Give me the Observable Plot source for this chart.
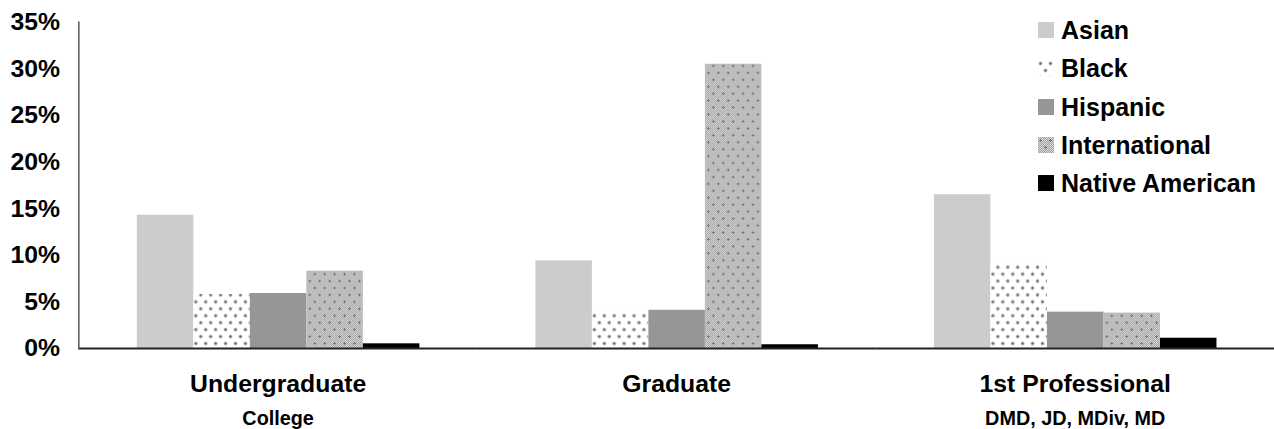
<!DOCTYPE html>
<html><head><meta charset="utf-8">
<script src="https://cdn.jsdelivr.net/npm/d3@7"></script>
<script src="https://cdn.jsdelivr.net/npm/@observablehq/plot@0.6"></script>
<style>
html,body{margin:0;padding:0;background:#fff;overflow:hidden;}
#wrap{position:relative;width:1274px;height:429px;overflow:hidden;font-family:"Liberation Sans",Arial,sans-serif;}
#legend{position:absolute;left:1038px;top:0;}
.item{position:absolute;left:0;display:flex;align-items:center;white-space:nowrap;font-weight:bold;font-size:25px;color:#000;height:30px;}
.item svg{margin-right:7px;}
</style></head>
<body>
<svg width="0" height="0" style="position:absolute">
<defs>
<pattern id="checker" width="2" height="2" patternUnits="userSpaceOnUse">
<rect width="2" height="2" fill="#d8d8d8"/>
<rect x="0" y="0" width="1" height="1" fill="#a2a2a2"/>
<rect x="1" y="1" width="1" height="1" fill="#a2a2a2"/>
</pattern>
<pattern id="pat-black" width="10" height="14" patternUnits="userSpaceOnUse">
<rect width="10" height="14" fill="#ffffff"/>
<circle cx="2.5" cy="3.5" r="1.9" fill="#b8b8b8"/>
<circle cx="2.5" cy="3.5" r="1.1" fill="#5e5e5e"/>
<circle cx="7.5" cy="10.5" r="1.9" fill="#b8b8b8"/>
<circle cx="7.5" cy="10.5" r="1.1" fill="#5e5e5e"/>
</pattern>
<pattern id="pat-intl" width="10" height="14" patternUnits="userSpaceOnUse">
<rect width="10" height="14" fill="url(#checker)"/>
<rect x="1" y="3" width="3" height="1" fill="#6e6e6e"/>
<rect x="2" y="2" width="1" height="3" fill="#6e6e6e"/>
<rect x="6" y="10" width="3" height="1" fill="#6e6e6e"/>
<rect x="7" y="9" width="1" height="3" fill="#6e6e6e"/>
</pattern>
</defs></svg>
<div id="wrap"><div id="chart"></div><div id="legend"></div></div>
<script>
const levels = ["Undergraduate", "Graduate", "1st Professional"];
const sublabels = ["College", "", "DMD, JD, MDiv, MD"];
const races = ["Asian", "Black", "Hispanic", "International", "Native American"];
const asian = [0.143, 0.094, 0.165];
const black = [0.058, 0.039, 0.092];
const hispanic = [0.059, 0.041, 0.039];
const international = [0.083, 0.305, 0.038];
const nativeAmerican = [0.005, 0.004, 0.011];
const yTicks = [0, 0.05, 0.10, 0.15, 0.20, 0.25, 0.30, 0.35];
const fills = ["#cccccc", "url(#pat-black)", "#969696", "url(#pat-intl)", "#000000"];

const series = [asian, black, hispanic, international, nativeAmerican];
const rows = levels.flatMap((level, i) => races.map((race, j) => ({level, race, value: series[j][i]})));

const chart = Plot.plot({
  width: 1285, height: 429,
  marginTop: 22, marginBottom: 78, marginLeft: 79, marginRight: 0,
  style: {fontFamily: "'Liberation Sans', Arial, sans-serif", fontSize: "25px", fontWeight: "bold", background: "white", overflow: "visible", color: "#000"},
  fx: {domain: levels, padding: 0, axis: null, label: null},
  x: {domain: races, paddingInner: 0, paddingOuter: 1, axis: null},
  y: {domain: [0, 0.35], axis: null},
  color: {domain: races, range: fills},
  marks: [
    Plot.barY(rows, {fx: "level", x: "race", y: "value", fill: "race"}),
    Plot.ruleY([0], {stroke: "#222", strokeWidth: 2}),
    Plot.frame({anchor: "left", facetAnchor: "left", stroke: "#555", strokeWidth: 1.5}),
    Plot.axisY({ticks: yTicks, tickFormat: d3.format(".0%"), tickSize: 0, tickPadding: 19, fontSize: 25, label: null}),
    Plot.text(levels, {fx: d => d, text: d => d, frameAnchor: "bottom", dy: 36, fontSize: 25, lineAnchor: "middle"}),
    Plot.text(levels, {fx: d => d, text: (d, i) => sublabels[i], frameAnchor: "bottom", dy: 71, fontSize: 20, lineAnchor: "middle"})
  ]
});
document.getElementById("chart").appendChild(chart);

const legendCenters = [30, 68, 107, 145, 183];
const legend = document.getElementById("legend");
races.forEach((r, i) => {
  const div = document.createElement("div");
  div.className = "item";
  div.style.top = (legendCenters[i] - 15) + "px";
  div.innerHTML = `<svg width="16" height="16"><rect width="16" height="16" fill="${fills[i]}"/></svg><span>${r}</span>`;
  legend.appendChild(div);
});
</script>
</body></html>
